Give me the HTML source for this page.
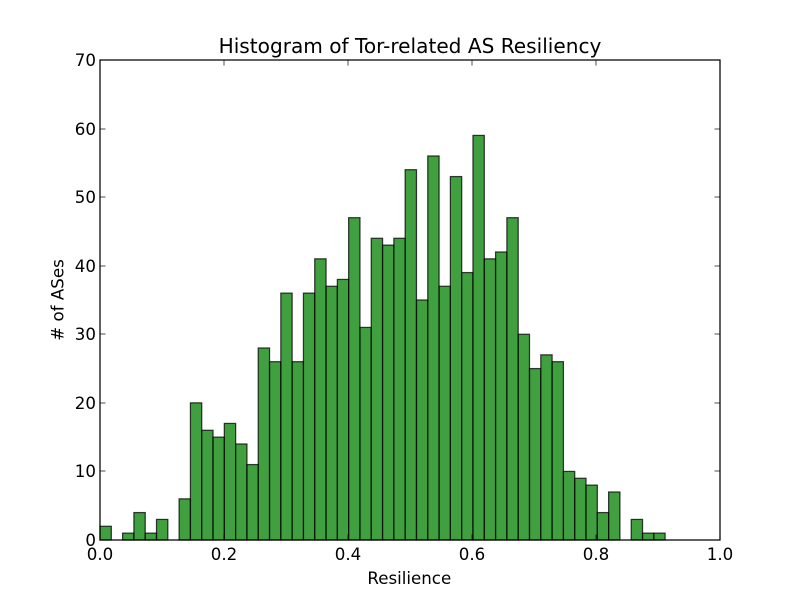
<!DOCTYPE html>
<html>
<head>
<meta charset="utf-8">
<title>Histogram of Tor-related AS Resiliency</title>
<style>
html,body{margin:0;padding:0;background:#fff;}
svg{display:block;}
text{font-family:"DejaVu Sans",sans-serif;fill:#000;}
</style>
</head>
<body>
<svg id="chart" width="800" height="600" viewBox="0 0 800 600" xmlns="http://www.w3.org/2000/svg">
<rect x="0" y="0" width="800" height="600" fill="#ffffff"></rect>
<g id="bars"></g>
<g id="axes"></g>
<text x="410" y="53" font-size="20.1" text-anchor="middle">Histogram of Tor-related AS Resiliency</text>
<text x="409.3" y="584" font-size="16.67" text-anchor="middle">Resilience</text>
<text transform="translate(63.5,300) rotate(-90)" font-size="16.67" text-anchor="middle"># of ASes</text>
</svg>
<script>
const binStart = 0;
const binWidth = 0.01823;
const counts = [2,0,1,4,1,3,0,6,20,16,15,17,14,11,28,26,36,26,36,41,37,38,47,31,44,43,44,54,35,56,37,53,39,59,41,42,47,30,25,27,26,10,9,8,4,7,0,3,1,1];
const xTicks = [0,0.2,0.4,0.6,0.8,1];
const xTickLabels = ['0.0','0.2','0.4','0.6','0.8','1.0'];
const yTicks = [0,10,20,30,40,50,60,70];
const yTickLabels = ['0','10','20','30','40','50','60','70'];
const xDomain = [0,1];
const yDomain = [0,70];

const NS = 'http://www.w3.org/2000/svg';
const plot = {left:100,right:720,top:60,bottom:540};
function xScale(v){return plot.left+(v-xDomain[0])/(xDomain[1]-xDomain[0])*(plot.right-plot.left);}
function yScale(v){return plot.bottom-(v-yDomain[0])/(yDomain[1]-yDomain[0])*(plot.bottom-plot.top);}
function make(tag,attrs){
  const el=document.createElementNS(NS,tag);
  for(const k in attrs){el.setAttribute(k,attrs[k]);}
  return el;
}
const barsG=document.getElementById('bars');
counts.forEach(function(c,i){
  const x0=xScale(binStart+i*binWidth);
  const x1=xScale(binStart+(i+1)*binWidth);
  const y=yScale(c);
  const r=make('rect',{x:x0,y:y,width:x1-x0,height:yScale(0)-y,fill:'#008000','fill-opacity':0.75,stroke:'#000','stroke-opacity':0.75,'stroke-width':1.25});
  
  
  barsG.appendChild(r);
});
const axesG=document.getElementById('axes');
xTicks.forEach(function(t,i){
  const x=Math.round(xScale(t));
  const b=make('line',{x1:x,x2:x,y1:plot.bottom,y2:plot.bottom-5.5,stroke:'#000','stroke-width':0.7});
  
  
  axesG.appendChild(b);
  const u=make('line',{x1:x,x2:x,y1:plot.top,y2:plot.top+5.5,stroke:'#000','stroke-width':0.7});
  
  
  axesG.appendChild(u);
  const l=make('text',{x:x,y:560,'font-size':16.67,'text-anchor':'middle'});
  
  
  l.textContent=xTickLabels[i];
  axesG.appendChild(l);
});
yTicks.forEach(function(t,i){
  const y=Math.round(yScale(t));
  const a=make('line',{x1:plot.left,x2:plot.left+5.5,y1:y,y2:y,stroke:'#000','stroke-width':0.7});
  
  
  axesG.appendChild(a);
  const c=make('line',{x1:plot.right,x2:plot.right-5.5,y1:y,y2:y,stroke:'#000','stroke-width':0.7});
  
  
  axesG.appendChild(c);
  const l=make('text',{x:96,y:y+6,'font-size':16.67,'text-anchor':'end'});
  
  
  l.textContent=yTickLabels[i];
  axesG.appendChild(l);
});
const frame=make('rect',{x:plot.left,y:plot.top,width:plot.right-plot.left,height:plot.bottom-plot.top,fill:'none',stroke:'#000','stroke-width':1.25});


axesG.appendChild(frame);
</script>
</body>
</html>
